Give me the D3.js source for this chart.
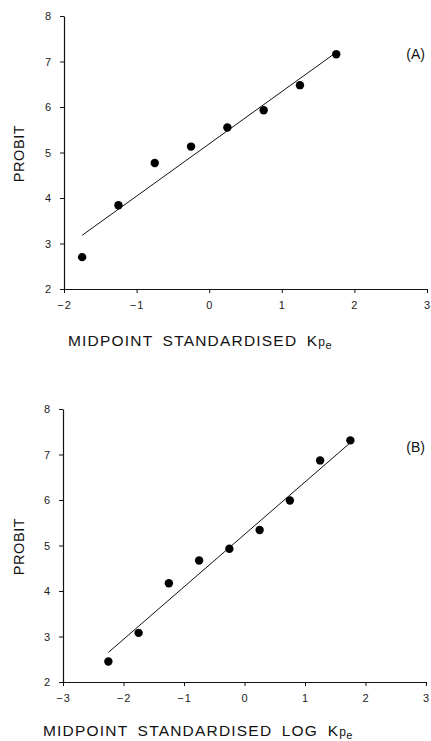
<!DOCTYPE html>
<html>
<head>
<meta charset="utf-8">
<script src="https://cdn.jsdelivr.net/npm/d3@7"></script>
<style>
  body { margin: 0; background: #fff; }
  svg text { font-family: 'Liberation Sans', Arial, sans-serif; fill: #111; }
</style>
</head>
<body>
<svg id="chart" width="431" height="741"></svg>
<script>
// Panel A
const xA = [-1.75, -1.25, -0.75, -0.25, 0.25, 0.75, 1.25, 1.75]
const yA = [2.70, 3.84, 4.77, 5.13, 5.55, 5.93, 6.48, 7.16]
const fitA = [[-1.75, 3.18], [1.75, 7.20]]
// Panel B
const xB = [-2.25, -1.75, -1.25, -0.75, -0.25, 0.25, 0.75, 1.25, 1.75]
const yB = [2.45, 3.08, 4.17, 4.67, 4.93, 5.34, 5.99, 6.87, 7.31]
const fitB = [[-2.25, 2.65], [1.75, 7.26]]

const yTicks = [2, 3, 4, 5, 6, 7, 8]
const xTicksA = [-2, -1, 0, 1, 2, 3]
const xTicksB = [-3, -2, -1, 0, 1, 2, 3]

const svg = d3.select('#chart')
const fmt = d3.format('d')

const panel = ({ xs, ys, fit, xDomain, xTicks, left, right, top, bottom, tag, xLabel, labelX, labelY }) => {
  const x = d3.scaleLinear().domain(xDomain).range([left, right])
  const y = d3.scaleLinear().domain([2, 8]).range([bottom, top])
  const g = svg.append('g')

  const yAxis = g.append('g')
    .attr('transform', `translate(${left},0)`)
    .call(d3.axisLeft(y).tickValues(yTicks).tickFormat(fmt).tickSize(4).tickSizeOuter(0).tickPadding(9))
  const xAxis = g.append('g')
    .attr('transform', `translate(0,${bottom})`)
    .call(d3.axisBottom(x).tickValues(xTicks).tickFormat(fmt).tickSize(4).tickSizeOuter(0).tickPadding(8))

  ;[yAxis, xAxis].forEach(a => {
    a.select('.domain').attr('stroke', '#111').attr('stroke-width', 1.2)
    a.selectAll('line').attr('stroke', '#111')
    a.selectAll('text').attr('font-size', 11).style('fill', '#222')
  })
  xAxis.selectAll('text').attr('letter-spacing', 1)

  g.append('line')
    .attr('x1', x(fit[0][0])).attr('y1', y(fit[0][1]))
    .attr('x2', x(fit[1][0])).attr('y2', y(fit[1][1]))
    .attr('stroke', '#111').attr('stroke-width', 1)

  g.selectAll('circle')
    .data(xs.map((v, i) => [v, ys[i]]))
    .enter()
    .append('circle')
    .attr('cx', d => x(d[0]))
    .attr('cy', d => y(d[1]))
    .attr('r', 4.2)
    .attr('fill', '#000')

  g.append('text')
    .attr('x', 425).attr('y', top + 43)
    .attr('text-anchor', 'end')
    .attr('font-size', 14)
    .text(tag)

  g.append('text')
    .attr('transform', `translate(24,${(top + bottom) / 2 + 1}) rotate(-90)`)
    .attr('text-anchor', 'middle')
    .attr('font-size', 14.5)
    .attr('letter-spacing', 0.6)
    .text('PROBIT')

  const lab = g.append('text')
    .attr('x', labelX).attr('y', labelY)
    .attr('font-size', 15.5)
    .attr('letter-spacing', 1.2)
    .attr('word-spacing', 4)
    .text(xLabel)
  lab.append('tspan').attr('font-size', 12).attr('letter-spacing', 0.5).text('p')
  lab.append('tspan').attr('font-size', 11).attr('dy', 3).text('e')
}

panel({
  xs: xA, ys: yA, fit: fitA, xDomain: [-2, 3], xTicks: xTicksA,
  left: 64, right: 427, top: 16, bottom: 289, tag: '(A)',
  xLabel: 'MIDPOINT STANDARDISED K', labelX: 68, labelY: 346
})

panel({
  xs: xB, ys: yB, fit: fitB, xDomain: [-3, 3], xTicks: xTicksB,
  left: 63, right: 426, top: 409, bottom: 682, tag: '(B)',
  xLabel: 'MIDPOINT STANDARDISED LOG K', labelX: 43, labelY: 736
})
</script>
</body>
</html>
